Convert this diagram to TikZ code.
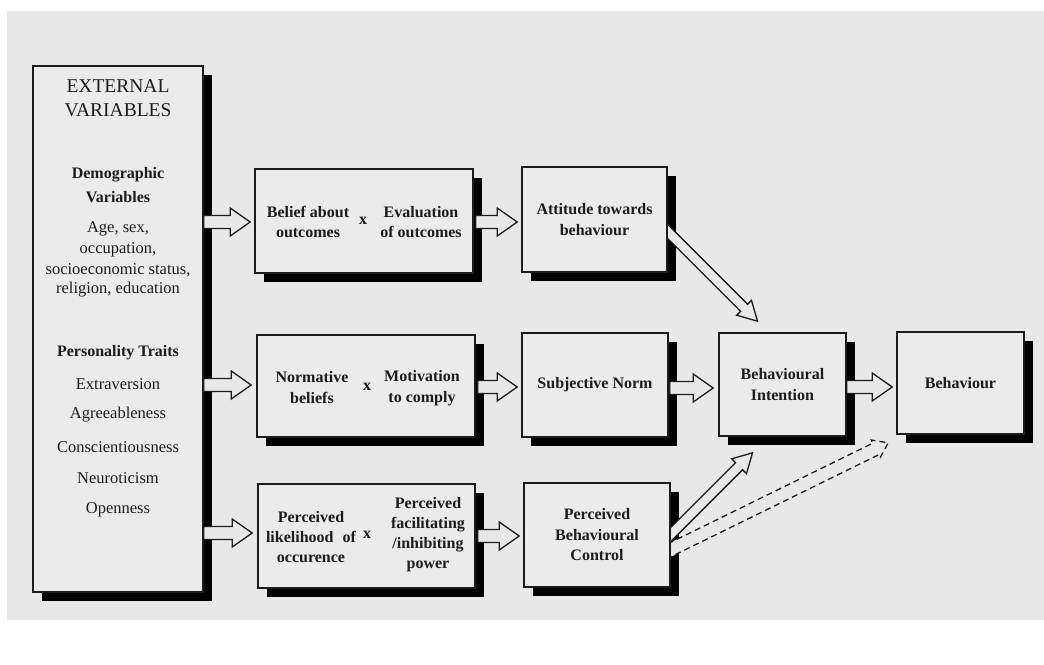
\documentclass[tikz,border=0pt]{standalone}
\usepackage{fontspec}
\setmainfont{Liberation Serif}
\usetikzlibrary{calc,shadows}
\definecolor{bg}{HTML}{E8E8E8}
\definecolor{boxfill}{HTML}{EBEBEB}
\definecolor{ink}{HTML}{1C1C1C}
% hollow block arrow: [opts]{from}{to}{shaft half width}{head half width}{head length}
\newcommand{\blockarr}[6][]{%
  \coordinate (bahead) at ($(#3)!#6!(#2)$);
  \draw[blockarrow,#1] ($(#2)!#4!90:(#3)$) -- ($(bahead)!#4!90:(#3)$) -- ($(bahead)!#5!90:(#3)$) -- (#3)
    -- ($(bahead)!#5!-90:(#3)$) -- ($(bahead)!#4!-90:(#3)$) -- ($(#2)!#4!-90:(#3)$) -- cycle;
}
\begin{document}
\begin{tikzpicture}[x=1pt,y=-1pt,
  box/.style={draw=ink, line width=1.6pt, fill=boxfill, inner sep=0pt, align=center,
    font=\fontsize{16}{21}\selectfont\bfseries, text=ink,
    drop shadow={shadow xshift=9pt, shadow yshift=-9pt, fill=black, opacity=1}},
  ttl/.style={font=\fontsize{19.5}{24}\selectfont, text=ink, inner sep=0pt},
  bt/.style={font=\fontsize{16}{20}\selectfont\bfseries, text=ink, inner sep=0pt, align=center},
  rt/.style={font=\fontsize{16.5}{20}\selectfont, text=ink, inner sep=0pt},
  blockarrow/.style={draw=ink, line width=1.3pt, fill=bg, line join=miter},
]
\useasboundingbox (0,0) rectangle (1044,664);
\fill[white] (0,0) rectangle (1044,664);
\fill[bg] (7,11) rectangle (1044,620);

% boxes
\node[box, minimum width=170pt, minimum height=526pt] (ext) at (118,329) {};
\node[box, minimum width=218pt, minimum height=104pt] (b1) at (364,221) {};
\node[box, minimum width=218pt, minimum height=102pt] (b2) at (366,386) {};
\node[box, minimum width=217pt, minimum height=104pt] (b3) at (366.5,536) {};
\node[box, minimum width=145pt, minimum height=105pt] (c1) at (594.5,219.5) {Attitude towards\\behaviour};
\node[box, minimum width=146pt, minimum height=104pt] (c2) at (595,385) {Subjective Norm};
\node[box, minimum width=146pt, minimum height=104pt, font=\fontsize{16}{20.5}\selectfont\bfseries] (c3) at (597,535) {Perceived\\Behavioural\\Control};
\node[box, minimum width=127pt, minimum height=103pt] (d) at (782.5,384.5) {Behavioural\\Intention};
\node[box, minimum width=127pt, minimum height=102pt] (e) at (960.5,383) {Behaviour};

% external variables text
\node[ttl] (t1) at (118,86) {EXTERNAL};
\node[ttl] (t2) at (118,110) {VARIABLES};
\node[bt] (t3) at (118,175) {Demographic};
\node[bt] (t4) at (118,197) {Variables};
\node[rt] (t5) at (118,229) {Age, sex,};
\node[rt] (t6) at (118,250) {occupation,};
\node[rt] (t7) at (118,270) {socioeconomic status,};
\node[rt] (t8) at (118,290) {religion, education};
\node[bt] (t9) at (118,353) {Personality Traits};
\node[rt] (t10) at (118,384) {Extraversion};
\node[rt] (t11) at (118,415) {Agreeableness};
\node[rt] (t12) at (118,447) {Conscientiousness};
\node[rt] (t13) at (118,478) {Neuroticism};
\node[rt] (t14) at (118,510) {Openness};

% product boxes text
\node[bt] (b1l) at (308,222) {Belief about\\outcomes};
\node[bt] (b1x) at (363,221) {x};
\node[bt] (b1r) at (421,222) {Evaluation\\of outcomes};
\node[bt, font=\fontsize{16}{21}\selectfont\bfseries] (b2l) at (312,387.5) {Normative\\beliefs};
\node[bt] (b2x) at (367,387) {x};
\node[bt, font=\fontsize{16}{21}\selectfont\bfseries] (b2r) at (422,388) {Motivation\\to comply};
\node[bt] (b3l) at (311,537) {Perceived\\likelihood\hspace{5pt} of\\occurence};
\node[bt] (b3x) at (367,535) {x};
\node[bt] (b3r) at (428,535) {Perceived\\facilitating\\/inhibiting\\power};

% arrow end points
\coordinate (a1s) at ($(ext.east |- b1.west)+(0,1)$);
\coordinate (a1e) at ($(b1.west)+(-4,1)$);
\coordinate (a2s) at ($(ext.east |- b2.west)+(0,-1)$);
\coordinate (a2e) at ($(b2.west)+(-5,-1)$);
\coordinate (a3s) at ($(ext.east |- b3.west)+(0,-3)$);
\coordinate (a3e) at ($(b3.west)+(-5,-3)$);
\coordinate (b1s) at ($(b1.east)+(2,1)$);
\coordinate (b1e) at ($(c1.west)+(-4,2.5)$);
\coordinate (b2s) at ($(b2.east)+(2,1)$);
\coordinate (b2e) at ($(c2.west)+(-4,2)$);
\coordinate (b3s) at ($(b3.east)+(2,0)$);
\coordinate (b3e) at ($(c3.west)+(-4,1)$);
\coordinate (c2s) at ($(c2.east)+(1,3)$);
\coordinate (c2e) at ($(d.west)+(-5,3.5)$);
\coordinate (ds) at ($(d.east)+(0,2.5)$);
\coordinate (de) at ($(e.west)+(-4,4)$);
\coordinate (c1s) at ($(c1.east)+(-13,-1)$);
\coordinate (c1e) at ($(d.north)+(-25,-11)$);
\coordinate (c3s) at ($(c3.east)+(-11,10.5)$);
\coordinate (c3e) at ($(d.south)+(-30,16)$);
\coordinate (c3ds) at ($(c3.east)+(-9,19)$);
\coordinate (c3de) at ($(e.south west)+(-8,8)$);

% arrows
\blockarr{a1s}{a1e}{6.5pt}{14pt}{20pt}
\blockarr{a2s}{a2e}{6.5pt}{14pt}{20pt}
\blockarr{a3s}{a3e}{6.5pt}{14pt}{20pt}
\blockarr{b1s}{b1e}{6.5pt}{14pt}{20pt}
\blockarr{b2s}{b2e}{6.5pt}{14pt}{20pt}
\blockarr{b3s}{b3e}{6.5pt}{14pt}{20pt}
\blockarr{c2s}{c2e}{6.5pt}{14pt}{20pt}
\blockarr{ds}{de}{6.5pt}{14pt}{20pt}
\begin{scope}
  \clip ($(c1.east)+(0.2,0)$) rectangle (1044,330);
  \blockarr{c1s}{c1e}{5pt}{10.5pt}{19pt}
\end{scope}
\begin{scope}
  \clip ($(c3.east)+(0.2,-200)$) rectangle (1044,620);
  \blockarr[dashed, dash pattern=on 6pt off 4pt]{c3ds}{c3de}{6.5pt}{10pt}{14pt}
  \blockarr{c3s}{c3e}{5pt}{10.5pt}{19pt}
\end{scope}
\end{tikzpicture}
\end{document}
